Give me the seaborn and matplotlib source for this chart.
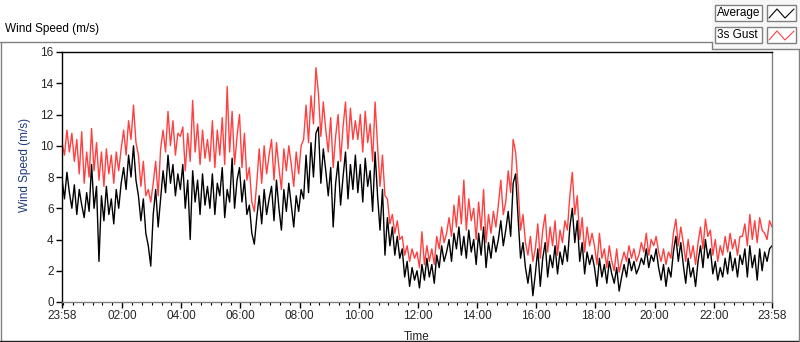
import numpy as np
import pandas as pd
import matplotlib
matplotlib.use("Agg")
import matplotlib.pyplot as plt
import seaborn as sns
from matplotlib.lines import Line2D
from matplotlib.patches import Rectangle

# readings every 5 minutes, starting 23:58
step_min = 5

avg_speed = [
    7.9, 6.6, 8.3, 7.0, 6.0, 7.5, 5.6, 7.2, 6.2, 5.4, 7.0, 5.8,
    8.8, 6.0, 7.4, 2.6, 6.8, 5.2, 7.4, 5.6, 6.6, 5.0, 7.2, 6.0,
    7.6, 8.6, 7.2, 9.4, 8.0, 10.0, 7.8, 6.8, 5.2, 6.6, 4.4, 3.6,
    2.3, 5.6, 7.2, 4.8, 6.6, 8.4, 7.0, 9.4, 7.6, 8.8, 6.8, 8.2,
    7.2, 8.8, 6.0, 7.8, 4.0, 8.4, 6.4, 7.8, 5.6, 8.2, 6.2, 7.4,
    6.0, 8.2, 5.6, 7.6, 6.8, 8.6, 5.4, 7.2, 6.4, 9.2, 6.0, 7.8,
    8.6, 6.4, 7.8, 5.6, 6.2, 4.4, 3.7, 5.4, 6.8, 5.0, 7.2, 5.6,
    6.6, 7.4, 5.2, 7.8, 6.0, 4.6, 7.2, 5.8, 7.6, 6.2, 4.8, 6.8,
    5.8, 7.2, 6.6, 9.4, 7.0, 10.2, 8.0, 10.8, 11.2, 7.6, 9.8, 8.4,
    6.8, 8.6, 4.8, 7.6, 9.0, 6.2, 8.0, 9.6, 6.6, 8.8, 7.2, 9.4,
    7.0, 8.8, 6.4, 9.2, 7.4, 8.4, 5.8, 9.6, 6.8, 4.6, 7.2, 3.0,
    5.4, 3.6, 4.8, 3.0, 4.2, 2.8, 3.4, 1.6, 2.6, 1.0, 2.2, 1.4,
    2.0, 0.9, 2.4, 1.4, 2.8, 1.6, 2.4, 1.2, 3.0, 2.2, 3.6, 2.6,
    3.2, 4.0, 2.6, 4.4, 3.4, 4.8, 3.0, 4.2, 2.8, 4.6, 3.2, 4.0,
    2.4, 4.4, 3.0, 4.8, 2.2, 3.8, 2.8, 4.2, 3.2, 4.0, 5.2, 3.6,
    4.6, 5.8, 4.2, 7.6, 8.2, 5.4, 2.8, 3.8, 2.2, 1.2, 2.4, 0.4,
    1.8, 3.4, 1.0, 2.8, 3.8, 1.6, 3.0, 2.2, 3.6, 1.8, 3.2, 2.4,
    3.6, 2.6, 4.8, 6.0, 3.8, 5.2, 2.6, 3.8, 1.8, 3.2, 2.4, 3.0,
    2.2, 1.0, 2.8, 1.6, 2.4, 1.2, 2.6, 1.8, 1.2, 2.2, 0.7, 1.6,
    2.4, 1.6, 2.8, 2.0, 2.6, 1.8, 2.2, 2.8, 2.4, 3.4, 2.2, 3.0,
    2.6, 3.4, 2.2, 1.4, 2.4, 1.0, 2.2, 1.6, 3.2, 4.2, 2.6, 3.8,
    2.4, 1.2, 2.8, 1.6, 2.2, 1.0, 2.6, 3.6, 2.2, 4.0, 2.8, 3.4,
    1.8, 2.6, 1.4, 2.2, 1.6, 2.8, 1.8, 3.2, 2.0, 2.8, 1.6, 3.0,
    2.4, 3.4, 1.6, 3.6, 2.2, 3.0, 1.4, 3.4, 2.0, 3.2, 2.6, 3.4,
    3.6,
]

gust_speed = [
    10.2, 9.4, 11.0, 9.6, 10.8, 9.0, 10.4, 8.2, 10.9, 7.6, 9.6, 8.0,
    11.1, 8.4, 10.2, 7.8, 9.6, 7.4, 9.8, 8.2, 9.4, 7.6, 9.6, 8.4,
    9.8, 11.0, 9.4, 11.6, 10.4, 12.6, 10.2, 9.4, 7.4, 9.0, 6.8, 7.2,
    6.4, 7.6, 9.0, 6.8, 9.8, 11.0, 9.6, 12.2, 10.0, 11.6, 9.4, 10.8,
    10.6, 11.2, 8.4, 10.8, 9.0, 12.9, 9.6, 11.4, 8.8, 11.0, 9.2, 10.4,
    9.0, 11.6, 8.6, 11.0, 9.4, 11.8, 8.8, 13.8, 9.6, 12.2, 8.8, 10.6,
    12.0, 8.6, 10.8, 7.8, 8.6, 6.4, 5.8, 7.6, 9.8, 7.6, 10.0, 8.2,
    9.4, 10.4, 7.8, 10.2, 8.6, 7.2, 9.8, 8.4, 10.0, 8.8, 7.4, 9.6,
    8.2, 10.0, 10.4, 12.6, 10.2, 13.2, 11.4, 15.0, 13.4, 10.6, 12.8, 11.0,
    9.6, 11.8, 8.6, 10.6, 12.0, 9.0, 11.2, 12.8, 9.8, 12.4, 10.4, 11.6,
    10.4, 12.0, 9.6, 12.2, 10.2, 11.4, 9.0, 12.8, 10.0, 7.4, 9.4, 6.8,
    6.6, 5.0, 5.6, 4.4, 5.2, 4.0, 4.2, 3.0, 3.6, 2.6, 3.4, 2.8,
    3.2, 2.2, 4.5, 2.4, 3.6, 2.6, 3.4, 2.4, 4.2, 3.4, 4.8, 3.8,
    4.4, 5.4, 4.2, 6.2, 4.8, 6.8, 5.0, 7.8, 4.6, 6.6, 5.2, 6.0,
    4.0, 6.4, 4.6, 7.2, 3.8, 5.6, 4.4, 5.8, 4.8, 6.2, 7.8, 5.6,
    6.4, 8.4, 7.0, 10.4, 9.6, 7.4, 4.6, 5.6, 3.8, 3.0, 4.2, 2.6,
    3.4, 5.0, 2.8, 4.6, 5.6, 3.2, 4.8, 3.6, 5.2, 3.0, 4.6, 3.8,
    5.2, 4.6, 6.8, 8.3, 5.6, 6.8, 4.0, 5.4, 3.2, 4.8, 3.6, 4.4,
    3.6, 2.4, 4.4, 2.8, 3.4, 2.2, 3.6, 2.6, 2.0, 3.4, 1.9, 2.6,
    3.2, 2.6, 3.6, 2.8, 3.4, 2.6, 3.0, 3.8, 3.2, 4.4, 3.0, 4.0,
    3.6, 4.2, 3.2, 2.6, 3.4, 2.4, 3.2, 2.8, 4.4, 5.3, 3.6, 4.8,
    3.8, 2.6, 4.0, 2.8, 3.6, 2.4, 3.8, 4.8, 3.4, 5.3, 4.2, 4.6,
    3.0, 4.0, 2.6, 3.6, 3.0, 4.2, 3.2, 4.4, 3.4, 4.0, 3.0, 4.2,
    4.2, 5.0, 3.6, 5.6, 4.0, 5.2, 3.8, 5.4, 4.6, 4.4, 4.0, 5.2,
    4.8,
]

tick_labels = ["23:58", "02:00", "04:00", "06:00", "08:00", "10:00", "12:00",
               "14:00", "16:00", "18:00", "20:00", "22:00", "23:58"]
tick_minutes = [0, 122, 242, 362, 482, 602, 722, 842, 962, 1082, 1202, 1322, 1440]

df = pd.DataFrame({
    "minute": np.arange(len(avg_speed)) * step_min,
    "Average": avg_speed,
    "3s Gust": gust_speed,
})

sns.set_style("white")
plt.rcParams["font.family"] = ["Liberation Sans", "DejaVu Sans"]

W, H = 800, 342
fig = plt.figure(figsize=(W / 100, H / 100), dpi=100)
fig.patch.set_facecolor("white")


def fx(x):
    return x / W


def fy(y):
    return 1 - y / H


ax = fig.add_axes([fx(62), fy(302), fx(772) - fx(62), fy(52) - fy(302)])

sns.lineplot(data=df, x="minute", y="3s Gust", color="#ff4040", linewidth=1.0,
             estimator=None, ax=ax)
sns.lineplot(data=df, x="minute", y="Average", color="black", linewidth=1.0,
             estimator=None, ax=ax)

ax.set_xlim(0, 1440)
ax.set_ylim(0, 16)
ax.set_xticks(tick_minutes)
ax.set_xticklabels(tick_labels)
ax.set_xticks(np.arange(2, 1441, 20), minor=True)
ax.set_yticks(np.arange(0, 17, 2))
ax.tick_params(axis="both", which="major", direction="out", length=4, width=1,
               color="black", labelsize=8.5, pad=2, bottom=True, left=True)
ax.tick_params(axis="x", which="minor", direction="out", length=2.5, width=0.8,
               color="black", bottom=True)

for side in ["top", "left"]:
    ax.spines[side].set_color("black")
    ax.spines[side].set_linewidth(1)
for side in ["right", "bottom"]:
    ax.spines[side].set_color("#808080")
    ax.spines[side].set_linewidth(1)

ax.set_ylabel("Wind Speed (m/s)", fontsize=8.5, color="#1f3a78")
ax.yaxis.set_label_coords(-0.044, 0.55)
ax.set_xlabel("Time", fontsize=8.5, color="#222222")
ax.xaxis.set_label_coords(0.5, -0.115)

# chart panel frame
grey = "#808080"
fig.add_artist(Line2D([fx(0), fx(712)], [fy(42), fy(42)], color=grey, lw=1))
fig.add_artist(Line2D([fx(0.5), fx(0.5)], [fy(42), fy(341)], color=grey, lw=1))
fig.add_artist(Line2D([fx(0), fx(800)], [fy(341), fy(341)], color="#202020", lw=1))
fig.add_artist(Line2D([fx(799), fx(799)], [fy(49), fy(341)], color=grey, lw=1))
fig.text(fx(5), fy(32), "Wind Speed (m/s)", fontsize=8.5, color="black",
         ha="left", va="baseline")

# legend panel
fig.add_artist(Rectangle((fx(712), fy(49)), fx(88), fy(0) - fy(49),
                         transform=fig.transFigure, facecolor="#f7f7f7",
                         edgecolor="none"))
fig.add_artist(Line2D([fx(712), fx(800)], [fy(49), fy(49)], color=grey, lw=1))
fig.add_artist(Line2D([fx(712), fx(712)], [fy(42), fy(49)], color=grey, lw=1))

for row, (name, col) in enumerate([("Average", "black"), ("3s Gust", "#ff4040")]):
    top = 5 + row * 22
    fig.add_artist(Rectangle((fx(715), fy(top + 16)), fx(47), fy(0) - fy(16),
                             transform=fig.transFigure, facecolor="white",
                             edgecolor=grey, lw=1))
    fig.text(fx(717), fy(top + 8), name, fontsize=8.5, color="black",
             ha="left", va="center")
    fig.add_artist(Rectangle((fx(767), fy(top + 16)), fx(29), fy(0) - fy(16),
                             transform=fig.transFigure, facecolor="white",
                             edgecolor=grey, lw=1))
    fig.add_artist(Line2D([fx(769), fx(777), fx(785), fx(794)],
                          [fy(top + 13), fy(top + 4), fy(top + 13), fy(top + 4)],
                          color=col, lw=0.8))

plt.savefig("out.png", dpi=100)
